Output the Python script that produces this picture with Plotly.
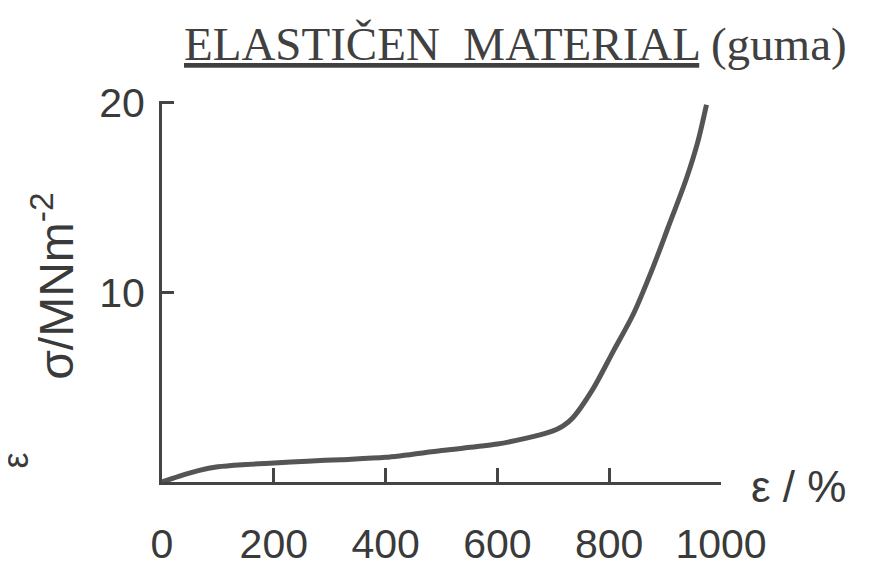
import plotly.graph_objects as go

# strain (%) and stress (MN m^-2)
strain = [0, 30, 65, 100, 150, 200, 260, 320, 400, 500, 600, 650, 690, 717, 735, 771, 807, 843, 878, 905, 938, 959, 974]
stress = [0, 0.3, 0.6, 0.8, 0.92, 1.0, 1.1, 1.18, 1.3, 1.66, 2.0, 2.3, 2.6, 2.95, 3.39, 4.91, 6.88, 8.85, 11.3, 13.4, 16.0, 18.0, 19.9]

x_ticks = [0, 200, 400, 600, 800, 1000]
y_ticks = [10, 20]

NUM_FONT = "Liberation Sans Narrow, Arial Narrow, Liberation Sans, Arial"
TXT = "#3a3a3a"
AX = "#444444"

fig = go.Figure()
fig.add_trace(go.Scatter(
    x=strain, y=stress, mode="lines",
    line=dict(color="#555555", width=5, shape="spline", smoothing=0.8),
    hoverinfo="skip", showlegend=False,
))

fig.update_layout(
    width=869, height=571,
    margin=dict(l=154, r=156, t=93, b=69),
    paper_bgcolor="white", plot_bgcolor="white",
    showlegend=False,
    xaxis=dict(
        range=[0, 1000], tickvals=x_ticks, ticktext=[str(v) for v in x_ticks],
        ticks="inside", ticklen=14, tickwidth=3, tickcolor=AX,
        showline=True, linecolor=AX, linewidth=3, showgrid=False, zeroline=False,
        tickfont=dict(family=NUM_FONT, size=41, color=TXT),
        ticklabelstandoff=24,
    ),
    yaxis=dict(
        range=[0, 20.1], tickvals=y_ticks, ticktext=[str(v) for v in y_ticks],
        ticks="inside", ticklen=12, tickwidth=3, tickcolor=AX,
        showline=True, linecolor=AX, linewidth=3, showgrid=False, zeroline=False,
        tickfont=dict(family=NUM_FONT, size=41, color=TXT),
        ticklabelstandoff=6,
    ),
    annotations=[
        dict(text="<u>ELASTIČEN  MATERIAL</u> (guma)", xref="paper", yref="paper",
             x=0.632, y=1.15, xanchor="center", yanchor="middle", showarrow=False,
             font=dict(family="Liberation Serif, Times New Roman, serif", size=47, color="#404040")),
        dict(text="σ/MNm<sup>-2</sup>", xref="paper", yref="paper",
             x=-0.195, y=0.515, xanchor="center", yanchor="middle", showarrow=False,
             textangle=-90,
             font=dict(family=NUM_FONT, size=48, color=TXT)),
        dict(text="ε / %", xref="paper", yref="paper",
             x=1.138, y=-0.012, xanchor="center", yanchor="middle", showarrow=False,
             font=dict(family="Liberation Sans, Arial, sans-serif", size=44, color=TXT)),
        dict(text="ε", xref="paper", yref="paper",
             x=-0.262, y=0.055, xanchor="center", yanchor="middle", showarrow=False,
             textangle=-90,
             font=dict(family="Liberation Sans, sans-serif", size=36, color=TXT)),
    ],
)

fig.write_html("out.html")
